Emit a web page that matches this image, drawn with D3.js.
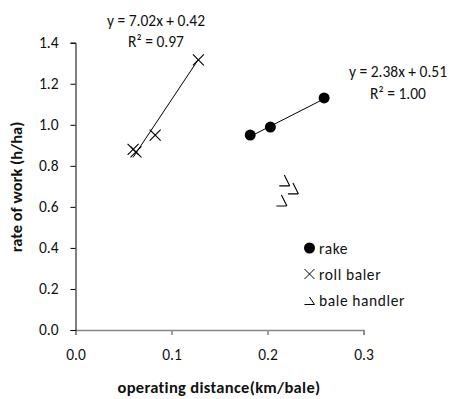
<!DOCTYPE html>
<html><head><meta charset="utf-8">
<script src="https://cdn.jsdelivr.net/npm/d3@7/dist/d3.min.js"></script>
<style>
body{margin:0;background:#fff;}
text{font-family:Carlito,Lato,"Open Sans",sans-serif;fill:#111;}
</style></head>
<body><svg id="c" width="454" height="399"></svg>
<script>
// data
const rakeX = [0.182, 0.203, 0.259];
const rakeY = [0.950, 0.989, 1.131];
const rollX = [0.060, 0.063, 0.083, 0.128];
const rollY = [0.880, 0.868, 0.950, 1.316];
const handlerX = [0.2175, 0.2265, 0.2145];
const handlerY = [0.729, 0.690, 0.631];
const rakeFit = {slope: 2.38, intercept: 0.51, label: "y = 2.38x + 0.51", r2: "R² = 1.00"};
const rollFit = {slope: 7.02, intercept: 0.42, label: "y = 7.02x + 0.42", r2: "R² = 0.97"};
const xTicks = [0.0, 0.1, 0.2, 0.3];
const yTicks = [0.0, 0.2, 0.4, 0.6, 0.8, 1.0, 1.2, 1.4];
const legendNames = ["rake", "roll baler", "bale handler"];

const FS = 15.5;
const svg = d3.select("#c");
const x = d3.scaleLinear().domain([0, 0.3]).range([75.5, 363.5]);
const y = d3.scaleLinear().domain([0, 1.4]).range([330, 42.7]);

// axes
const xAxis = svg.append("g").attr("transform", `translate(0,${y(0)})`)
  .call(d3.axisBottom(x).tickValues(xTicks).tickFormat(d3.format(".1f")).tickSizeOuter(0).tickSize(5).tickPadding(14));
xAxis.select(".domain").attr("stroke", "#868686").attr("stroke-width", 1.5);
xAxis.selectAll(".tick line").attr("stroke", "#868686").attr("stroke-width", 1.5);
xAxis.selectAll("text").attr("font-size", FS).attr("font-family", "Carlito,Lato,sans-serif").attr("fill", "#222");

const yAxis = svg.append("g").attr("transform", `translate(${x(0)},0)`)
  .call(d3.axisLeft(y).tickValues(yTicks).tickFormat(d3.format(".1f")).tickSizeOuter(0).tickSize(5).tickPadding(12));
yAxis.select(".domain").attr("stroke", "#000").attr("stroke-width", 1);
yAxis.selectAll(".tick line").attr("stroke", "#000");
yAxis.selectAll("text").attr("font-size", FS).attr("font-family", "Carlito,Lato,sans-serif").attr("fill", "#222");

// trendlines
function trend(xs, fit) {
  const x0 = d3.min(xs), x1 = d3.max(xs);
  svg.append("line")
    .attr("x1", x(x0)).attr("y1", y(fit.slope * x0 + fit.intercept))
    .attr("x2", x(x1)).attr("y2", y(fit.slope * x1 + fit.intercept))
    .attr("stroke", "#000").attr("stroke-width", 1);
}
trend(rakeX, rakeFit);
trend(rollX, rollFit);

// markers
function crossPath(s){return `M${-s},${-s}L${s},${s}M${-s},${s}L${s},${-s}`;}
function handlerPath(){return "M-5,5.5H5M0,-5.5L5.5,5.5";}

svg.append("g").selectAll("circle").data(rakeX.map((d,i)=>[d,rakeY[i]])).join("circle")
  .attr("cx", d=>x(d[0])).attr("cy", d=>y(d[1])).attr("r", 5.5).attr("fill", "#000");
svg.append("g").selectAll("path").data(rollX.map((d,i)=>[d,rollY[i]])).join("path")
  .attr("transform", d=>`translate(${x(d[0])},${y(d[1])})`).attr("d", crossPath(5.5))
  .attr("stroke", "#000").attr("stroke-width", 1.1).attr("fill", "none");
svg.append("g").selectAll("path").data(handlerX.map((d,i)=>[d,handlerY[i]])).join("path")
  .attr("transform", d=>`translate(${x(d[0])},${y(d[1])})`).attr("d", handlerPath())
  .attr("stroke", "#000").attr("stroke-width", 1.1).attr("fill", "none");

// equations
function eq(fit, cx, y1, y2){
  svg.append("text").attr("x", cx).attr("y", y1).attr("text-anchor","middle").attr("font-size",FS).text(fit.label);
  svg.append("text").attr("x", cx).attr("y", y2).attr("text-anchor","middle").attr("font-size",FS).text(fit.r2);
}
eq(rollFit, 156, 26, 47);
eq(rakeFit, 398, 77, 99);

// legend
const lg = svg.append("g").attr("transform", "translate(309.5,248)");
legendNames.forEach((n,i)=>{
  const g = lg.append("g").attr("transform", `translate(0,${i*26})`);
  if(i===0) g.append("circle").attr("r",5.5).attr("fill","#000");
  else if(i===1) g.append("path").attr("d", crossPath(5)).attr("stroke","#000").attr("fill","none");
  else g.append("path").attr("d", "M-5,4.5H5M0,-3L5,4.5").attr("stroke","#000").attr("fill","none");
  g.append("text").attr("x", 9.5).attr("y", 5.5).attr("font-size", FS).attr("letter-spacing", 0.6).text(n);
});

// axis titles
svg.append("text").attr("x", 219).attr("y", 393).attr("text-anchor","middle")
  .attr("font-size",16.5).attr("font-weight","bold").attr("letter-spacing", 0.3).text("operating distance(km/bale)");
svg.append("text").attr("transform","translate(22,187) rotate(-90)").attr("text-anchor","middle")
  .attr("font-size",16.5).attr("font-weight","bold").text("rate of work (h/ha)");
</script></body></html>
